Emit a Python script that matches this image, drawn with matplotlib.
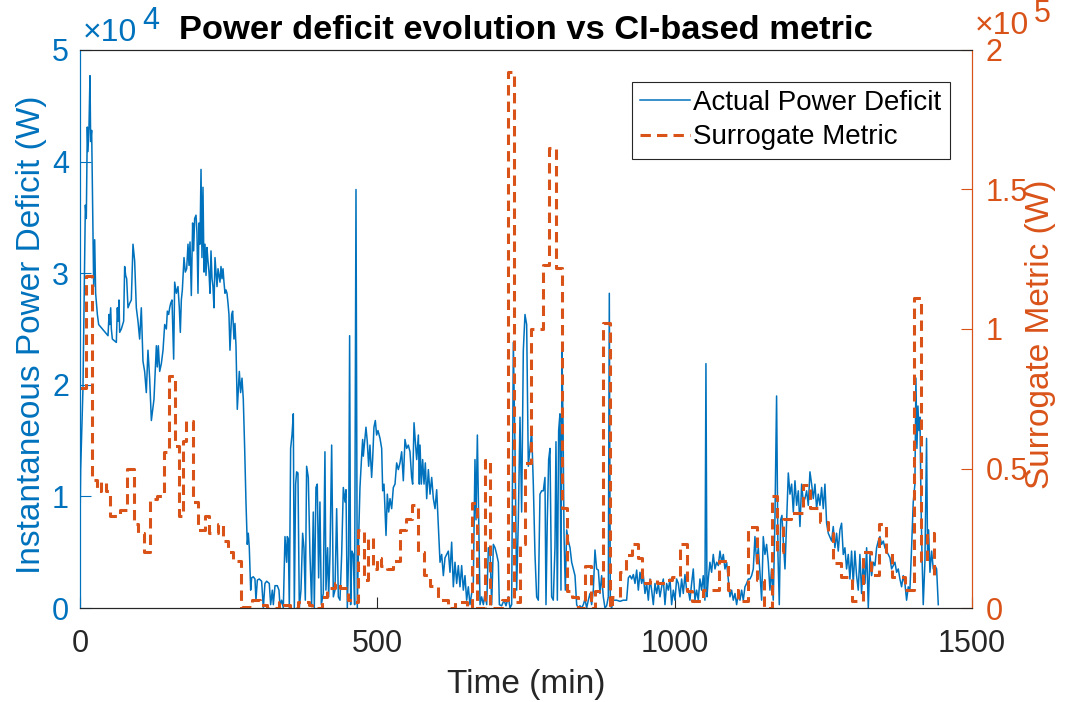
import numpy as np
import matplotlib
matplotlib.use("Agg")
import matplotlib.pyplot as plt
from matplotlib.ticker import FuncFormatter

plt.rcParams['font.family'] = ['Liberation Sans', 'DejaVu Sans']

# ---------------- data ----------------
deficit_t = [0.0, 1.1, 5.0, 9.0, 10.6, 12.3, 13.4, 15.1, 16.8, 17.9, 19.6, 21.3, 23.0, 24.7, 26.3, 29.2, 31.4,
             47.1, 48.8, 49.9, 51.6, 52.7, 54.4, 61.1, 62.8, 63.9, 65.6, 66.7, 69.5, 73.4, 75.1, 76.8, 78.5,
             80.7, 83.5, 86.3, 89.1, 91.9, 94.7, 97.5, 100.3, 103.1, 105.9, 108.7, 111.5, 114.3, 117.1, 120.0,
             124.4, 128.4, 130.0, 131.7, 134.0, 136.8, 139.6, 142.4, 145.2, 146.9, 149.1, 150.8, 152.5, 154.7,
             157.5, 159.2, 162.0, 164.8, 167.0, 168.7, 170.4, 172.1, 174.9, 177.1, 179.4, 181.6, 183.3, 185.0,
             187.2, 189.4, 191.1, 192.8, 195.1, 196.7, 198.4, 200.1, 201.8, 203.5, 205.1, 206.8, 208.5, 210.2,
             211.9, 213.5, 215.2, 216.9, 218.6, 220.3, 222.0, 223.6, 225.3, 227.0, 228.7, 230.4, 232.1, 233.7,
             235.4, 237.1, 238.8, 240.5, 242.1, 243.8, 245.5, 247.2, 248.9, 250.5, 252.2, 255.0, 256.7, 258.9,
             260.6, 262.3, 264.5, 267.9, 270.1, 272.4, 274.6, 276.9, 279.1, 281.3, 283.0, 284.7, 287.0, 288.6,
             291.4, 294.2, 295.9, 298.2, 301.5, 305.4, 308.3, 311.0, 313.9, 318.3, 320.6, 323.4, 325.1, 327.9,
             331.8, 334.6, 336.3, 339.1, 341.9, 344.7, 347.5, 348.6, 350.3, 352.0, 354.2, 356.5, 358.7, 360.4,
             362.6, 364.3, 366.5, 368.8, 371.6, 374.4, 376.6, 378.9, 381.1, 383.9, 386.7, 389.5, 392.3, 394.0,
             396.8, 399.0, 401.3, 403.5, 405.8, 409.1, 411.9, 413.6, 416.4, 418.1, 420.4, 423.2, 426.0, 428.8,
             431.6, 434.4, 437.2, 440.0, 442.8, 445.6, 447.3, 449.5, 451.7, 453.4, 455.1, 457.3, 459.6, 461.8,
             464.1, 466.3, 468.6, 470.8, 473.6, 475.3, 476.4, 478.6, 480.9, 483.1, 485.4, 487.6, 490.4, 492.1,
             494.3, 496.6, 498.8, 501.1, 504.5, 507.3, 509.0, 511.2, 514.6, 516.8, 519.1, 521.3, 524.1, 526.9,
             529.7, 532.5, 535.3, 538.1, 540.9, 543.7, 546.5, 549.3, 552.1, 554.9, 557.7, 559.4, 561.7, 563.9,
             566.2, 569.0, 570.6, 571.8, 574.0, 576.2, 578.5, 580.7, 583.0, 585.8, 588.6, 591.4, 594.2, 597.0,
             599.8, 602.6, 605.4, 608.2, 611.0, 613.8, 616.6, 619.4, 622.2, 625.0, 627.8, 630.6, 633.4, 636.2,
             639.0, 641.8, 644.6, 647.4, 650.2, 653.0, 655.8, 658.6, 661.4, 664.2, 665.9, 668.2, 670.4, 672.7,
             675.4, 678.3, 681.1, 683.9, 686.7, 689.5, 692.3, 695.1, 697.9, 700.7, 703.5, 705.2, 709.1, 713.0,
             716.4, 720.3, 723.1, 725.9, 728.7, 731.5, 734.3, 737.1, 739.9, 742.7, 745.5, 748.3, 751.1, 753.9,
             759.5, 762.3, 765.1, 767.9, 770.7, 773.5, 776.3, 779.1, 781.9, 783.6, 785.8, 788.1, 790.3, 793.1,
             795.9, 798.7, 800.4, 802.7, 804.9, 807.1, 808.8, 810.5, 812.2, 813.9, 816.1, 818.4, 821.2, 824.0,
             826.8, 829.6, 832.4, 835.2, 838.0, 840.8, 843.6, 846.4, 849.2, 852.0, 854.8, 857.6, 860.4, 863.2,
             866.0, 868.8, 871.6, 874.4, 877.2, 880.0, 882.8, 885.6, 888.4, 890.1, 891.8, 894.0, 896.8, 902.4,
             908.0, 913.6, 919.2, 922.1, 924.9, 927.7, 930.5, 933.3, 936.1, 938.9, 941.7, 944.5, 947.3, 950.1,
             952.9, 955.7, 958.5, 961.3, 964.1, 966.9, 969.7, 972.5, 975.3, 978.1, 980.9, 983.7, 986.5, 989.3,
             992.1, 994.9, 997.7, 1000.5, 1003.3, 1006.1, 1008.9, 1011.7, 1014.5, 1017.3, 1020.1, 1022.9,
             1025.7, 1028.5, 1031.3, 1034.1, 1036.9, 1039.7, 1042.5, 1045.3, 1048.1, 1050.9, 1052.6, 1054.3,
             1056.5, 1059.3, 1062.1, 1064.9, 1067.8, 1070.6, 1073.4, 1076.2, 1079.0, 1081.8, 1084.6, 1087.4,
             1090.2, 1093.0, 1095.8, 1098.6, 1101.4, 1104.2, 1107.0, 1109.8, 1112.6, 1115.4, 1118.2, 1121.0,
             1123.8, 1126.6, 1129.4, 1132.2, 1135.0, 1137.8, 1140.6, 1143.4, 1146.2, 1149.0, 1151.8, 1154.6,
             1157.4, 1160.2, 1163.0, 1165.8, 1168.6, 1171.4, 1173.7, 1175.9, 1178.2, 1180.4, 1182.7, 1185.5,
             1188.3, 1191.1, 1193.9, 1196.7, 1199.5, 1202.3, 1205.1, 1207.9, 1210.7, 1213.5, 1216.3, 1219.1,
             1221.9, 1224.7, 1227.5, 1230.3, 1233.1, 1235.9, 1238.7, 1241.5, 1244.3, 1247.1, 1249.9, 1252.7,
             1255.5, 1258.3, 1263.9, 1266.7, 1269.5, 1272.3, 1275.1, 1277.9, 1280.7, 1283.5, 1286.3, 1289.1,
             1291.9, 1294.7, 1297.5, 1300.3, 1303.1, 1305.9, 1308.7, 1311.5, 1314.3, 1317.1, 1320.0, 1322.8,
             1325.6, 1328.4, 1331.2, 1334.0, 1336.8, 1339.6, 1342.4, 1345.2, 1348.0, 1350.8, 1353.6, 1356.4,
             1359.2, 1362.0, 1364.8, 1367.6, 1370.4, 1373.2, 1376.0, 1378.8, 1381.6, 1384.4, 1387.2, 1390.0,
             1392.8, 1395.6, 1398.4, 1401.2, 1404.0, 1405.7, 1407.4, 1409.1, 1410.8, 1412.5, 1414.2, 1415.9,
             1418.0, 1420.8, 1423.6, 1425.3, 1427.0, 1429.3, 1432.1, 1434.9, 1437.7, 1440.5, 1443.3]

deficit_W = [7400, 12400, 19700, 36100, 34900, 43100, 40900, 43100, 47700, 41800, 42800, 35800, 28800, 33000, 28200, 26300, 25400,
             24400, 26300, 25400, 26900, 25000, 24100, 23800, 26900, 25700, 27600, 24700, 25000, 25700, 30600, 29800, 29500,
             26900, 27300, 27600, 32600, 31100, 26900, 25700, 24100, 26900, 22100, 21200, 19300, 23100, 20600, 16800,
             18700, 23500, 21600, 23500, 21200, 21900, 23100, 25400, 25000, 26600, 26300, 26900, 27300, 27600,
             22300, 29200, 28200, 28800, 26900, 24700, 27600, 28500, 31400, 30100, 30400, 32600, 30700, 32800,
             28000, 34500, 32000, 34900, 35200, 33600, 28200, 34500, 32600, 39300, 31400, 37700, 30100, 32600,
             29800, 32300, 31100, 30100, 28200, 32000, 29500, 28800, 26900, 31400, 30100, 28800, 30400, 29800,
             29200, 30600, 29500, 30400, 29200, 28200, 28500, 28200, 27300, 26300, 23100, 26300, 26600, 24100,
             25500, 23500, 17800, 21200, 19300, 20600, 18700, 14300, 9500, 5700, 6700, 5400, 1600, 2700,
             2800, 2600, 700, 2500, 2600, 2400, 0, 2200, 2400, 2200, 300, 1600, 300, 2000,
             2000, 1600, 200, 700, 0, 6400, 4100, 6400, 6200, 0, 14300, 15500, 17400, 0,
             11100, 12200, 12100, 0, 1600, 6700, 5400, 700, 12700, 11700, 4800, 300, 8600, 0,
             10800, 11100, 2700, 9500, 300, 1300, 14000, 1600, 5400, 1000, 4800, 14600, 1000, 1600,
             8900, 1000, 700, 4800, 10800, 9500, 10600, 0, 4800, 24400, 300, 5100, 4800, 300,
             37500, 0, 6400, 10800, 13600, 15100, 13600, 14900, 16200, 14900, 12700, 14600, 11700, 13300,
             16200, 16800, 15500, 15900, 15200, 14300, 10500, 11100, 6500, 10200, 8600, 9800, 8900, 10800,
             11100, 13000, 12400, 13000, 14000, 11400, 15100, 14300, 14600, 14000, 11700, 11100, 16600, 14900,
             13300, 15500, 11100, 14600, 11100, 13300, 11100, 13000, 9800, 12400, 10200, 11700, 9800, 8900,
             10600, 7300, 4100, 4800, 2900, 4500, 4800, 5100, 3200, 5900, 1900, 4100, 2200, 3800,
             1900, 3800, 1600, 2900, 700, 1900, 300, 1300, 2200, 13300, 7900, 15500, 7900, 300,
             1000, 300, 1300, 300, 5400, 5100, 300, 5700, 5400, 4800, 4100, 300, 200, 700,
             200, 1000, 0, 300, 23800, 14300, 1600, 7900, 17100, 8600, 23100, 26300, 25400, 12700,
             15900, 11100, 4800, 1000, 700, 10200, 10500, 10500, 11700, 300, 7900, 13300, 14300, 1000,
             700, 5400, 14900, 700, 15900, 17400, 1600, 23100, 16800, 6700, 1600, 7000, 6000, 5400,
             4100, 3500, 2900, 300, 0, 200, 0, 300, 800, 0, 700, 1300, 300, 1600,
             5200, 3500, 3400, 1300, 2900, 1000, 0, 200, 1000, 28200, 300, 0, 700, 700,
             600, 700, 700, 2700, 2900, 2600, 3000, 2200, 3400, 1600, 3200, 2200, 2900, 1300,
             2200, 700, 2600, 1600, 300, 2200, 1300, 2200, 1000, 1900, 2600, 300, 2200, 1600,
             2600, 300, 1600, 700, 2600, 2200, 1000, 2600, 1300, 3000, 1600, 1600,
             700, 2200, 3500, 700, 1600, 700, 2600, 1600, 2900, 700, 21900, 1000,
             2600, 4100, 3200, 4800, 3500, 4100, 3800, 5100, 4100, 4800, 3500, 4100,
             2600, 1000, 1600, 700, 1300, 300, 1300, 700, 1600, 700, 1900, 2200,
             2600, 2600, 2900, 3500, 6400, 4100, 5400, 3200, 700, 6400, 4800, 5700,
             4100, 1600, 3500, 700, 7900, 19000, 4800, 300, 7900, 8300, 6000, 3500,
             7900, 12100, 10200, 11100, 8600, 11400, 9200, 10500, 7300, 11100, 9500, 9800,
             10500, 9200, 12200, 11100, 9800, 11100, 8900, 10200, 9200, 10800, 8900, 11100,
             7600, 6700, 6000, 7300, 5400, 6700, 5100, 7000, 7600, 4800, 5400, 3500,
             4800, 2600, 5100, 2200, 5100, 2900, 1600, 4800, 1300, 4100, 2200, 5400,
             0, 4800, 2900, 4100, 3800, 5400, 6000, 6400, 5700, 6000, 5400, 5100,
             4800, 4500, 3500, 3800, 4100, 3200, 3500, 2600, 1900, 2900, 2200, 700,
             1900, 1600, 5400, 9500, 11100, 20600, 14300, 18100, 15900, 17100, 9500, 4800,
             300, 4100, 15200, 4800, 7000, 3200, 5100, 3500, 3800, 3500, 300]

surrogate_t = [0, 10, 20, 28, 36, 44, 51, 68, 79, 90, 97, 108, 118, 130, 141, 149, 160, 167, 173, 179,
               190, 199, 210, 217, 232, 240, 249, 258, 270, 289, 303, 314, 334, 343, 353, 367, 385, 390,
               407, 415, 429, 437, 451, 459, 468, 477, 484, 492, 499, 506, 516, 526, 538, 548, 558, 569,
               578, 588, 602, 619, 630, 650, 659, 667, 681, 690, 709, 720, 730, 740, 749, 758, 779, 789,
               800, 810, 819, 827, 838, 850, 860, 866, 880, 891, 895, 908, 919, 929, 939, 945, 958, 970,
               984, 996, 1009, 1021, 1029, 1047, 1075, 1090, 1107, 1124, 1138, 1150, 1163, 1172, 1183,
               1195, 1215, 1228, 1244, 1258, 1266, 1280, 1298, 1316, 1330, 1343, 1355, 1365, 1388, 1403,
               1414, 1425, 1436, 1442]
surrogate_W = [79000, 119000, 46000, 42000, 45000, 42000, 33000, 35000, 50000, 30000, 27000, 20000, 39000,
               40000, 56000, 83000, 58000, 33000, 60000, 67000, 38000, 28000, 33000, 27000, 30000, 24000,
               20000, 17000, 500, 3000, 1000, 0, 2000, 1000, 0, 2000, 1000, 0, 4000, 7000, 9000, 7000,
               3000, 2000, 28000, 10000, 25000, 14000, 18000, 15000, 14000, 17000, 28000, 32000, 37000,
               20000, 12000, 8000, 3000, 0, 2000, 0, 37500, 0, 53000, 0, 3000, 192000, 2000, 23000, 52000,
               100000, 123000, 165000, 122000, 36000, 6000, 4000, 0, 15000, 0, 6000, 102000, 0, 4000,
               13000, 19000, 23000, 18000, 9000, 10000, 9000, 10000, 11000, 23000, 6000, 2500, 6500,
               17000, 6500, 2500, 29000, 10000, 0, 40000, 20000, 32000, 34000, 44000, 36000, 31000,
               27000, 16000, 11000, 2500, 20000, 12000, 30000, 20000, 11000, 6500, 111000, 17000, 27000,
               12000, 12000]

x_ticks = [0, 500, 1000, 1500]
left_ticks = [0, 10000, 20000, 30000, 40000, 50000]
right_ticks = [0, 50000, 100000, 150000, 200000]

BLUE = '#0072BD'
ORANGE = '#D95319'
DARK = '#262626'
W, H = 1080, 702

# ---------------- figure ----------------
fig = plt.figure(figsize=(W / 100, H / 100), dpi=100)
ax = fig.add_axes([80 / W, 1 - 608 / H, 892 / W, 558 / H])
ax2 = ax.twinx()

l1, = ax.plot(deficit_t, deficit_W, color=BLUE, lw=1.1, label='Actual Power Deficit')
l2, = ax2.plot(surrogate_t, surrogate_W, color=ORANGE, lw=2.2, ls=(0, (3.4, 2.0)),
               drawstyle='steps-post', label='Surrogate Metric')

ax.set_xlim(0, 1500)
ax.set_ylim(0, 50000)
ax2.set_ylim(0, 200000)
ax.set_xticks(x_ticks)
ax.set_yticks(left_ticks)
ax2.set_yticks(right_ticks)
ax.yaxis.set_major_formatter(FuncFormatter(lambda v, p: f'{v / 1e4:g}'))
ax2.yaxis.set_major_formatter(FuncFormatter(lambda v, p: f'{v / 1e5:g}'))

ax.tick_params(axis='x', direction='in', length=8, width=0.8, labelsize=22, pad=15,
               colors=DARK, top=False)
ax.tick_params(axis='y', direction='in', length=8, width=0.8, labelsize=22, pad=8,
               colors=BLUE)
ax2.tick_params(axis='y', direction='in', length=8, width=0.8, labelsize=22, pad=10,
                colors=ORANGE)

for a in (ax, ax2):
    a.spines['left'].set_color(BLUE)
    a.spines['right'].set_color(ORANGE)
    a.spines['top'].set_color(DARK)
    a.spines['bottom'].set_color(DARK)
    for s in a.spines.values():
        s.set_linewidth(0.8)

ax.set_xlabel('Time (min)', fontsize=24, color=DARK, va='center')
ax.xaxis.set_label_coords(0.5, (608 - 685) / 558)
ax.set_ylabel('Instantaneous Power Deficit (W)', fontsize=24, color=BLUE, va='center')
ax.yaxis.set_label_coords((32 - 80) / 892, 0.5 - 6 / 558)
ax2.set_ylabel('Surrogate Metric (W)', fontsize=24, color=ORANGE, va='center', rotation=90)
ax2.yaxis.set_label_coords((1041 - 80) / 892, 0.5 - 5 / 558)

ax.set_title('Power deficit evolution vs CI-based metric', fontsize=24.8, fontweight='bold',
             color='black', pad=8)

# axis multipliers (x10^4 on the left, x10^5 on the right)
fig.text(83 / W, 1 - 41 / H, '\u00d710', fontsize=23, color=BLUE, ha='left', va='baseline')
fig.text(142 / W, 1 - 29 / H, '4', fontsize=22, color=BLUE, ha='left', va='baseline')
fig.text(975 / W, 1 - 34 / H, '\u00d710', fontsize=23, color=ORANGE, ha='left', va='baseline')
fig.text(1034 / W, 1 - 22 / H, '5', fontsize=22, color=ORANGE, ha='left', va='baseline')

leg = ax2.legend(handles=[l1, l2], loc='upper right', bbox_to_anchor=(0.975, 0.943),
                 fontsize=20, frameon=True, fancybox=False, edgecolor=DARK, framealpha=1,
                 borderpad=0.3, handlelength=1.8, handletextpad=0.1, labelspacing=0.3,
                 borderaxespad=0)
leg.get_frame().set_linewidth(0.8)

fig.savefig('out.png', dpi=100)
